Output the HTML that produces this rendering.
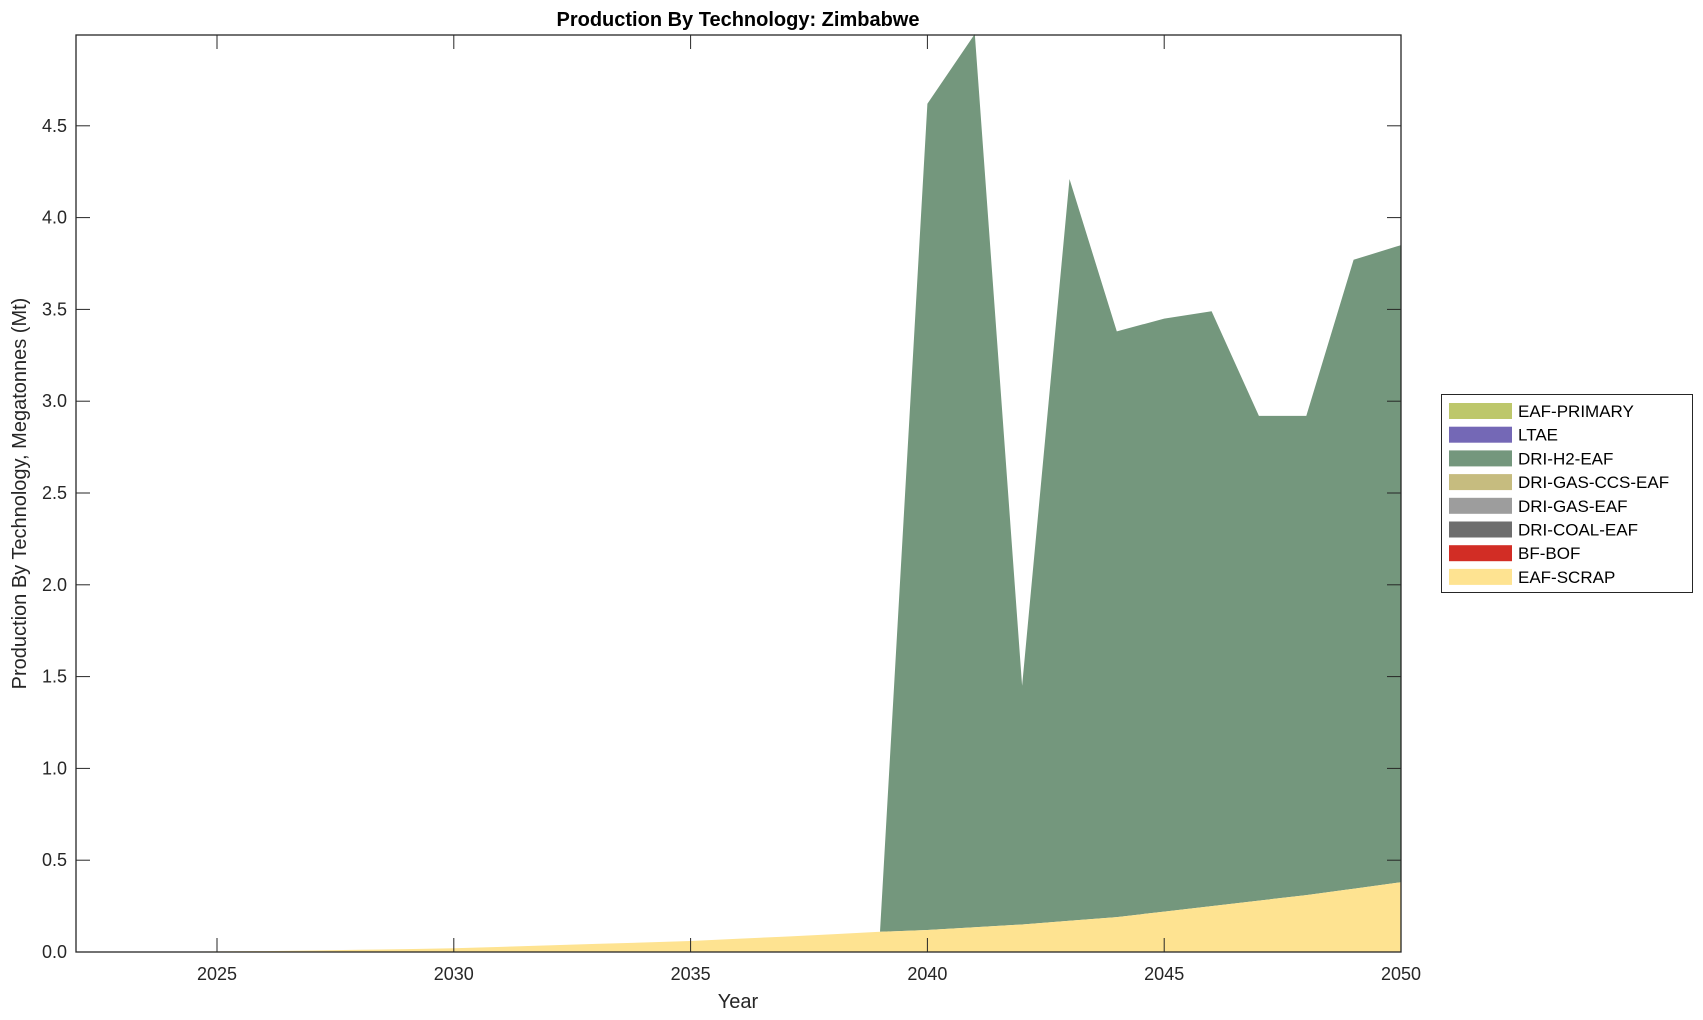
<!DOCTYPE html>
<html><head><meta charset="utf-8"><style>
html,body{margin:0;padding:0;background:#fff;}
svg{display:block;font-family:"Liberation Sans",Arial,sans-serif;}
</style></head><body>
<svg id="s" width="1703" height="1020" xmlns="http://www.w3.org/2000/svg"></svg>
<script>
const s=document.getElementById('s');
const L=76,R=1401,T=35,B=952;
const X=y=>217+(y-2025)*47.36;
const Y=v=>B-v*183.6;
const scrap={2022:0,2023:0.001,2024:0.002,2025:0.003,2026:0.005,2027:0.008,2028:0.012,2029:0.016,2030:0.02,2031:0.028,2032:0.036,2033:0.044,2034:0.052,2035:0.06,2036:0.072,2037:0.084,2038:0.097,2039:0.11,2040:0.12,2041:0.135,2042:0.15,2043:0.17,2044:0.19,2045:0.22,2046:0.25,2047:0.28,2048:0.31,2049:0.345,2050:0.38};
const tot={2039:0.11,2040:4.62,2041:5.0,2042:1.45,2043:4.21,2044:3.38,2045:3.45,2046:3.49,2047:2.92,2048:2.92,2049:3.77,2050:3.85};
let h='';
// scrap area
let p=`M${X(2022)},${B}`;
for(let y=2022;y<=2050;y++)p+=` L${X(y).toFixed(1)},${Y(scrap[y]).toFixed(1)}`;
p+=` L${X(2050)},${B} Z`;
// green area
let g='';
for(let y=2039;y<=2050;y++)g+=(y==2039?'M':' L')+X(y).toFixed(1)+','+Y(tot[y]).toFixed(1);
for(let y=2050;y>=2039;y--)g+=' L'+X(y).toFixed(1)+','+Y(scrap[y]).toFixed(1);
g+=' Z';
h+=`<path d="${g}" fill="#74977d"/>`;
h+=`<path d="${p}" fill="#fee391"/>`;
// axes box
h+=`<rect x="${L}" y="${T}" width="${R-L}" height="${B-T}" fill="none" stroke="#262626" stroke-width="1.3"/>`;
// x ticks
for(let y=2025;y<=2050;y+=5){const x=X(y);
h+=`<line x1="${x}" y1="${B}" x2="${x}" y2="${B-14}" stroke="#262626"/><line x1="${x}" y1="${T}" x2="${x}" y2="${T+14}" stroke="#262626"/>`;
h+=`<text x="${x}" y="${B+28}" font-size="18" fill="#262626" text-anchor="middle">${y}</text>`;}
for(let i=0;i<=9;i++){const v=i*0.5,y=Y(v);
h+=`<line x1="${L}" y1="${y}" x2="${L+14}" y2="${y}" stroke="#262626"/><line x1="${R}" y1="${y}" x2="${R-14}" y2="${y}" stroke="#262626"/>`;
h+=`<text x="${L-9}" y="${y+6}" font-size="18" fill="#262626" text-anchor="end">${v.toFixed(1)}</text>`;}
h+=`<text x="738" y="${B+56}" font-size="20" fill="#262626" text-anchor="middle">Year</text>`;
h+=`<text transform="translate(26,${(T+B)/2}) rotate(-90)" font-size="20" fill="#262626" text-anchor="middle">Production By Technology, Megatonnes (Mt)</text>`;
h+=`<text x="738" y="26" font-size="20" font-weight="bold" fill="#000" text-anchor="middle">Production By Technology: Zimbabwe</text>`;
// legend
h+=`<rect x="1441.5" y="394.5" width="251" height="198" fill="#fff" stroke="#262626" stroke-width="1"/>`;
const leg=[["EAF-PRIMARY","#bdc76b"],["LTAE","#7468b6"],["DRI-H2-EAF","#74977d"],["DRI-GAS-CCS-EAF","#c6bc7f"],["DRI-GAS-EAF","#9d9d9d"],["DRI-COAL-EAF","#6e6e6e"],["BF-BOF","#d22d25"],["EAF-SCRAP","#fee391"]];
leg.forEach((e,i)=>{const cy=411+i*23.7;
h+=`<rect x="1449" y="${cy-8}" width="63" height="16" fill="${e[1]}"/>`;
h+=`<text x="1518" y="${cy+6}" font-size="17" fill="#000">${e[0]}</text>`;});
s.innerHTML=h;
</script>
</body></html>
